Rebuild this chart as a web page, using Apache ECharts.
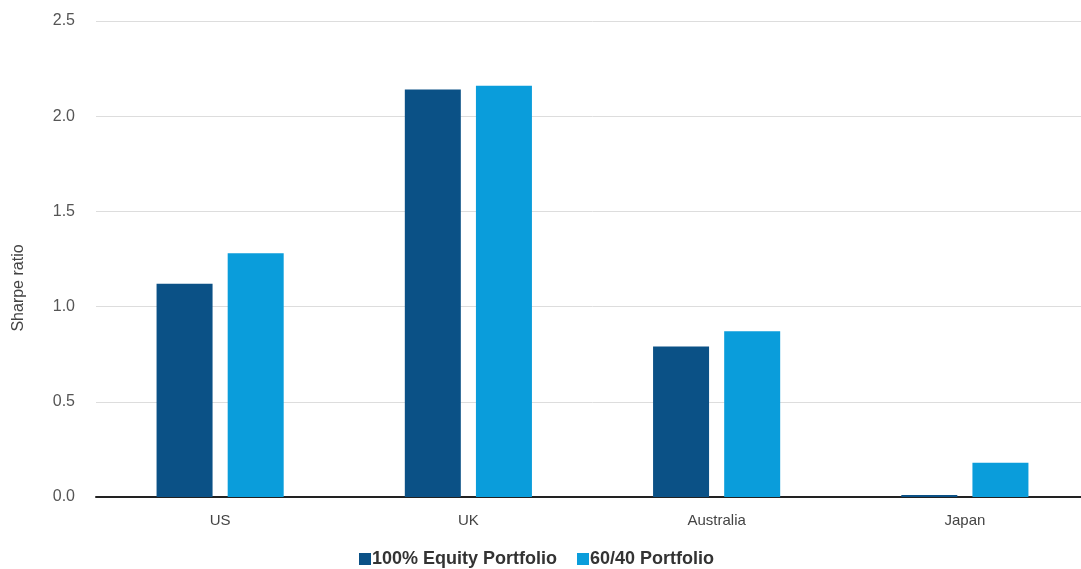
<!DOCTYPE html>
<html>
<head>
<meta charset="utf-8">
<script src="https://cdn.jsdelivr.net/npm/echarts@6/dist/echarts.min.js"></script>
<style>
    html, body { margin: 0; padding: 0; background: #fff; overflow: hidden; }
    #chart { width: 1089px; height: 569px; }
</style>
</head>
<body>
<div id="chart"></div>
<script>
    const countries = ['US', 'UK', 'Australia', 'Japan']
    const equity = [1.12, 2.14, 0.79, 0.01]
    const balanced = [1.28, 2.16, 0.87, 0.18]

    let myChart = echarts.init(document.getElementById('chart'))

    // chart div is a bit wider than the window: the plot runs past the right edge like the source
    let option = {
        textStyle: { fontFamily: 'Liberation Sans, Arial, sans-serif' },
        grid: { left: 96, top: 21, right: 0, bottom: 72 },
        legend: {
            bottom: -4,
            left: 354,
            itemWidth: 12,
            itemHeight: 12,
            itemGap: 20,
            icon: 'rect',
            textStyle: { fontSize: 18, fontWeight: 'bold', color: '#333', padding: [0, 0, 0, -4] },
            data: ['100% Equity Portfolio', '60/40 Portfolio']
        },
        xAxis: {
            type: 'category',
            data: countries,
            axisLine: { lineStyle: { color: '#222', width: 2 } },
            axisTick: { show: false },
            axisLabel: { color: '#444', fontSize: 15, margin: 16 }
        },
        yAxis: {
            type: 'value',
            min: 0,
            max: 2.5,
            interval: 0.5,
            name: 'Sharpe ratio',
            nameLocation: 'middle',
            nameGap: 69,
            nameTextStyle: { color: '#444', fontSize: 16, padding: [0, 58, 0, 0] },
            axisLabel: { color: '#555', fontSize: 16, margin: 21, formatter: v => v.toFixed(1) },
            splitLine: { lineStyle: { color: '#ddd' } }
        },
        series: [
            {
                name: '100% Equity Portfolio',
                type: 'bar',
                data: equity,
                barWidth: 56,
                barGap: '27%',
                itemStyle: { color: '#0b5186' }
            },
            {
                name: '60/40 Portfolio',
                type: 'bar',
                data: balanced,
                barWidth: 56,
                itemStyle: { color: '#0a9ddb' }
            }
        ]
    }
    myChart.setOption(option)
</script>
</body>
</html>
